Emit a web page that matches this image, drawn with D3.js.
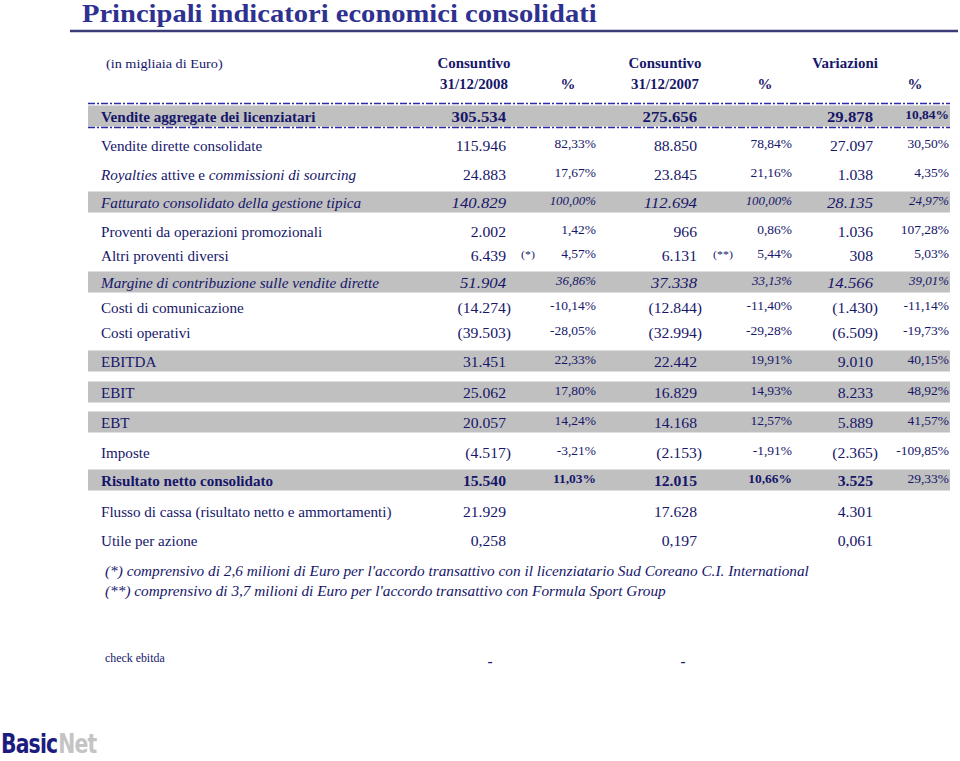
<!DOCTYPE html>
<html>
<head>
<meta charset="utf-8">
<script src="https://cdn.jsdelivr.net/npm/d3@7"></script>
<style>
  html, body { margin: 0; padding: 0; background: #ffffff; }
  svg { display: block; }
</style>
</head>
<body>
<div id="chart"></div>
<script>
// ---------------- DATA ----------------
const title = "Principali indicatori economici consolidati";
const unitNote = "(in migliaia di Euro)";
const headTop = ["Consuntivo", "", "Consuntivo", "", "Variazioni", ""];
const headBottom = ["31/12/2008", "%", "31/12/2007", "%", "", "%"];

const labels = [
  "Vendite aggregate dei licenziatari",
  "Vendite dirette consolidate",
  "Royalties attive e commissioni di sourcing",
  "Fatturato consolidato della gestione tipica",
  "Proventi da operazioni promozionali",
  "Altri proventi diversi",
  "Margine di contribuzione sulle vendite dirette",
  "Costi di comunicazione",
  "Costi operativi",
  "EBITDA",
  "EBIT",
  "EBT",
  "Imposte",
  "Risultato netto consolidato",
  "Flusso di cassa (risultato netto e ammortamenti)",
  "Utile per azione"
];
const italicPhrases = ["Royalties", "commissioni di sourcing"];

const v2008 = [305534, 115946, 24883, 140829, 2002, 6439, 51904, -14274, -39503, 31451, 25062, 20057, -4517, 15540, 21929, 0.258];
const p2008 = [null, 82.33, 17.67, 100.00, 1.42, 4.57, 36.86, -10.14, -28.05, 22.33, 17.80, 14.24, -3.21, 11.03, null, null];
const v2007 = [275656, 88850, 23845, 112694, 966, 6131, 37338, -12844, -32994, 22442, 16829, 14168, -2153, 12015, 17628, 0.197];
const p2007 = [null, 78.84, 21.16, 100.00, 0.86, 5.44, 33.13, -11.40, -29.28, 19.91, 14.93, 12.57, -1.91, 10.66, null, null];
const varAbs = [29878, 27097, 1038, 28135, 1036, 308, 14566, -1430, -6509, 9010, 8233, 5889, -2365, 3525, 4301, 0.061];
const varPct = [10.84, 30.50, 4.35, 24.97, 107.28, 5.03, 39.01, -11.14, -19.73, 40.15, 48.92, 41.57, -109.85, 29.33, null, null];
const notes2008 = ["", "", "", "", "", "(*)", "", "", "", "", "", "", "", "", "", ""];
const notes2007 = ["", "", "", "", "", "(**)", "", "", "", "", "", "", "", "", "", ""];

const footnotes = [
  "(*) comprensivo di 2,6 milioni di Euro per l'accordo transattivo con il licenziatario Sud Coreano C.I. International",
  "(**) comprensivo di 3,7 milioni di Euro per l'accordo transattivo con Formula Sport Group"
];
const checkLabel = "check ebitda";
const checkValues = [0, 0];
const logoParts = ["Basic", "Net"];

// ---------------- STYLE / LAYOUT ----------------
const W = 960, H = 761;
const SX = 1.08;                       // horizontal stretch of the reference type
const NAVY = "#16166a", TITLE = "#2e3190", SHADE = "#c0c0c0";
const serif = "'Liberation Serif','Times New Roman',serif";
const shadedRows = new Set([0, 3, 6, 9, 10, 11, 13]);
const boldRows = new Set([0, 13]);
const italicRows = new Set([3, 6]);
const rowGaps = [29, 29, 28, 29, 24, 27, 25, 25, 29, 31, 30, 30, 28, 31, 29];
const col = { label: 101, v2008: 506, n2008: 528, p2008: 596, v2007: 697, n2007: 723, p2007: 792, vAbs: 873, vPct: 949 };
const tableLeft = 88, tableRight = 950;

const loc = d3.formatLocale({ decimal: ",", thousands: ".", grouping: [3], currency: ["", "€"], minus: "-" });
const fInt = loc.format(",.0f"), fEps = loc.format(".3f"), fPct = loc.format(".2f");
const fmtVal = v => v == null ? "" : (Math.abs(v) < 1 ? fEps(v) : (v < 0 ? "(" + fInt(-v) + ")" : fInt(v)));
const fmtPct = p => p == null ? "" : fPct(p) + "%";

const cum = [0];
rowGaps.forEach(g => cum.push(cum[cum.length - 1] + g));
const y = d3.scaleLinear().domain([0, cum[cum.length - 1]]).range([117, 541]);
const rowY = i => y(cum[i]);

const svg = d3.select("#chart").append("svg").attr("width", W).attr("height", H)
  .style("font-family", serif);

function txt(parent, x, yy, s, o = {}) {
  const t = parent.append("text")
    .attr("transform", `translate(${x},${yy}) scale(${o.sx || SX},1)`)
    .attr("text-anchor", o.anchor || "start")
    .attr("dy", o.dy != null ? o.dy : "0.35em")
    .attr("fill", o.fill || NAVY)
    .style("font-size", (o.size || 14) + "px")
    .style("font-weight", o.bold ? "bold" : "normal")
    .style("font-style", o.italic ? "italic" : "normal");
  if (s != null) t.text(s);
  return t;
}

// Title
txt(svg, 82, 22, title, { size: 25.5, bold: true, fill: TITLE, dy: 0, sx: 1.12 });
svg.append("line").attr("x1", 70).attr("x2", 958).attr("y1", 31).attr("y2", 31)
  .attr("stroke", "#3c3c7a").attr("stroke-width", 2.5);

// Header
txt(svg, 106, 63, unitNote, { size: 13.2 });
const headCols = [474, 568, 665, 765, 845, 915];
headCols.forEach((cx, i) => {
  if (headTop[i]) txt(svg, cx, 63, headTop[i], { size: 13.8, bold: true, anchor: "middle" });
  if (headBottom[i]) txt(svg, cx, 84, headBottom[i], { size: 13.8, bold: true, anchor: "middle" });
});

// Shading
const gShade = svg.append("g");
labels.forEach((l, i) => {
  if (!shadedRows.has(i)) return;
  gShade.append("rect").attr("x", tableLeft).attr("width", tableRight - tableLeft)
    .attr("y", rowY(i) - 11.5).attr("height", 21).attr("fill", SHADE);
});
// dashed borders around first row
[rowY(0) - 13.5, rowY(0) + 10.5].forEach(yy => {
  svg.append("line").attr("x1", tableLeft).attr("x2", tableRight).attr("y1", yy).attr("y2", yy)
    .attr("stroke", "#2a2aa8").attr("stroke-width", 1.6).attr("stroke-dasharray", "7,2,2,2");
});

// Rows
const gRows = svg.append("g");
labels.forEach((l, i) => {
  const yy = rowY(i);
  const bold = boldRows.has(i), ital = italicRows.has(i);
  const labSize = ital ? 14.1 : 14;
  const t = txt(gRows, col.label, yy, null, { size: labSize, bold, italic: ital });
  const re = new RegExp("(" + italicPhrases.join("|") + ")");
  l.split(re).filter(s => s !== "").forEach(seg => {
    t.append("tspan").text(seg).style("font-style", (ital || italicPhrases.includes(seg)) ? "italic" : null);
  });
  const vSize = ital ? 15.5 : (i === 0 ? 15.5 : 14.5);
  const pSize = ital ? 12 : 12.5;
  const neg = v => v != null && v < 0 && Math.abs(v) >= 1 ? 5 : 0;
  txt(gRows, col.v2008 + neg(v2008[i]), yy, fmtVal(v2008[i]), { size: vSize, bold, italic: ital, anchor: "end" });
  txt(gRows, col.v2007 + neg(v2007[i]), yy, fmtVal(v2007[i]), { size: vSize, bold, italic: ital, anchor: "end" });
  txt(gRows, col.vAbs + neg(varAbs[i]), yy, fmtVal(varAbs[i]), { size: vSize, bold, italic: ital, anchor: "end" });
  txt(gRows, col.p2008, yy - 2, fmtPct(p2008[i]), { size: pSize, bold, italic: ital, anchor: "end" });
  txt(gRows, col.p2007, yy - 2, fmtPct(p2007[i]), { size: pSize, bold, italic: ital, anchor: "end" });
  txt(gRows, col.vPct, yy - 2, fmtPct(varPct[i]), { size: pSize, bold: i === 0, italic: ital, anchor: "end" });
  if (notes2008[i]) txt(gRows, col.n2008, yy - 2, notes2008[i], { size: 11, anchor: "middle" });
  if (notes2007[i]) txt(gRows, col.n2007, yy - 2, notes2007[i], { size: 11, anchor: "middle" });
});

// Footnotes
footnotes.forEach((f, i) => txt(svg, 105, 571 + i * 20, f, { size: 15, italic: true, sx: 1.02 }));

// check ebitda
txt(svg, 105, 658, checkLabel, { size: 12.5, sx: 0.95 });
const fCheck = v => v === 0 ? "-" : fInt(v);
txt(svg, col.v2008 - 16, 661, fCheck(checkValues[0]), { size: 14, bold: true, anchor: "middle" });
txt(svg, col.v2007 - 14, 661, fCheck(checkValues[1]), { size: 14, bold: true, anchor: "middle" });

// Logo: two condensed words, the second placed after the measured first one
const logoFont = "'DejaVu Sans Condensed','DejaVu Sans',sans-serif";
const logoSX = 0.84;
const basic = txt(svg, 1, 753, logoParts[0], { size: 27, bold: true, fill: "#1c1c80", dy: 0, sx: logoSX })
  .style("font-family", logoFont).style("letter-spacing", "-1px");
const basicLen = basic.node().getComputedTextLength() * logoSX;
txt(svg, 1 + basicLen + 1, 753, logoParts[1], { size: 27, bold: true, fill: "#c4c4c4", dy: 0, sx: logoSX })
  .style("font-family", logoFont).style("letter-spacing", "-1px");
</script>
</body>
</html>
